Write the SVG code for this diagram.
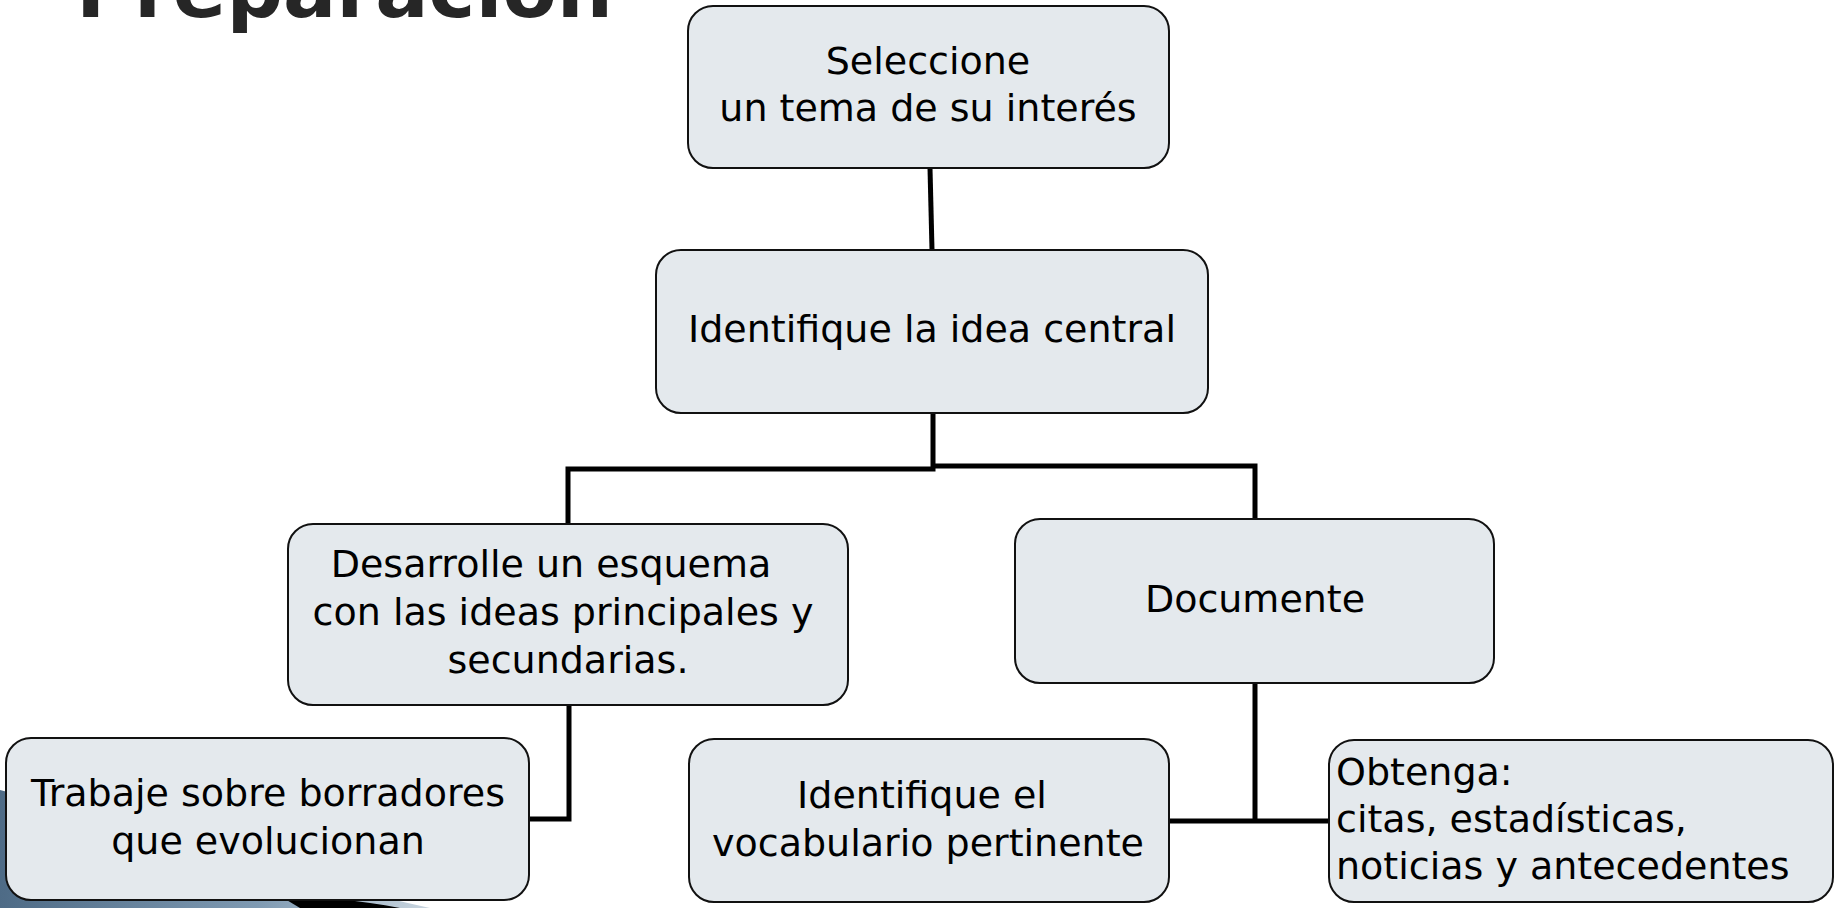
<svg xmlns="http://www.w3.org/2000/svg" width="1845" height="908" viewBox="0 0 1845 908">
<style>
.box{fill:#e4e9ed;stroke:#111;stroke-width:2}
.t{font-family:"DejaVu Sans",sans-serif;font-size:38px;fill:#000;text-anchor:middle}
.tl{font-family:"DejaVu Sans",sans-serif;font-size:38px;fill:#000}
.c{fill:none;stroke:#000;stroke-width:5;stroke-linejoin:miter;stroke-linecap:butt}
</style>
<defs>
<linearGradient id="bg" x1="0" y1="0" x2="1" y2="0">
<stop offset="0" stop-color="#4e6b86"/>
<stop offset="0.6" stop-color="#7f9ab2"/>
<stop offset="1" stop-color="#c9d5df"/>
</linearGradient>
</defs>
<rect width="1845" height="908" fill="#fff"/>
<g id="decor">
<path d="M0,790 C120,820 260,870 430,908 L0,908 Z" fill="url(#bg)"/>
<path d="M280,896 C320,897 360,900 400,908 L300,908 Z" fill="#000"/>
</g>
<text x="76" y="17" font-family="DejaVu Sans, sans-serif" font-size="79" font-weight="bold" fill="#262626">Preparación</text>
<g id="connectors">
<line class="c" x1="930" y1="168" x2="932" y2="250"/>
<polyline class="c" points="933,413 933,469 568,469 568,524"/>
<polyline class="c" points="933,466 1255,466 1255,519"/>
<polyline class="c" points="569,705 569,819 529,819"/>
<line class="c" x1="1255" y1="683" x2="1255" y2="821"/>
<line class="c" x1="1169" y1="821" x2="1329" y2="821"/>
</g>
<g id="n1">
<rect class="box" x="688" y="6" width="481" height="162" rx="25"/>
<text class="t" x="928" y="74">Seleccione</text>
<text class="t" x="928" y="121">un tema de su interés</text>
</g>
<g id="n2">
<rect class="box" x="656" y="250" width="552" height="163" rx="25"/>
<text class="t" x="932" y="342">Identifique la idea central</text>
</g>
<g id="n3">
<rect class="box" x="288" y="524" width="560" height="181" rx="25"/>
<text class="t" x="551" y="577">Desarrolle un esquema</text>
<text class="t" x="563" y="625">con las ideas principales y</text>
<text class="t" x="568" y="673">secundarias.</text>
</g>
<g id="n4">
<rect class="box" x="1015" y="519" width="479" height="164" rx="25"/>
<text class="t" x="1255" y="612">Documente</text>
</g>
<g id="n5">
<rect class="box" x="6" y="738" width="523" height="162" rx="25"/>
<text class="t" x="268" y="806">Trabaje sobre borradores</text>
<text class="t" x="268" y="854">que evolucionan</text>
</g>
<g id="n6">
<rect class="box" x="689" y="739" width="480" height="163" rx="25"/>
<text class="t" x="922" y="808">Identifique el</text>
<text class="t" x="928" y="856">vocabulario pertinente</text>
</g>
<g id="n7">
<rect class="box" x="1329" y="740" width="504" height="162" rx="25"/>
<text class="tl" x="1336" y="785">Obtenga:</text>
<text class="tl" x="1336" y="832">citas, estadísticas,</text>
<text class="tl" x="1336" y="879">noticias y antecedentes</text>
</g>
</svg>
